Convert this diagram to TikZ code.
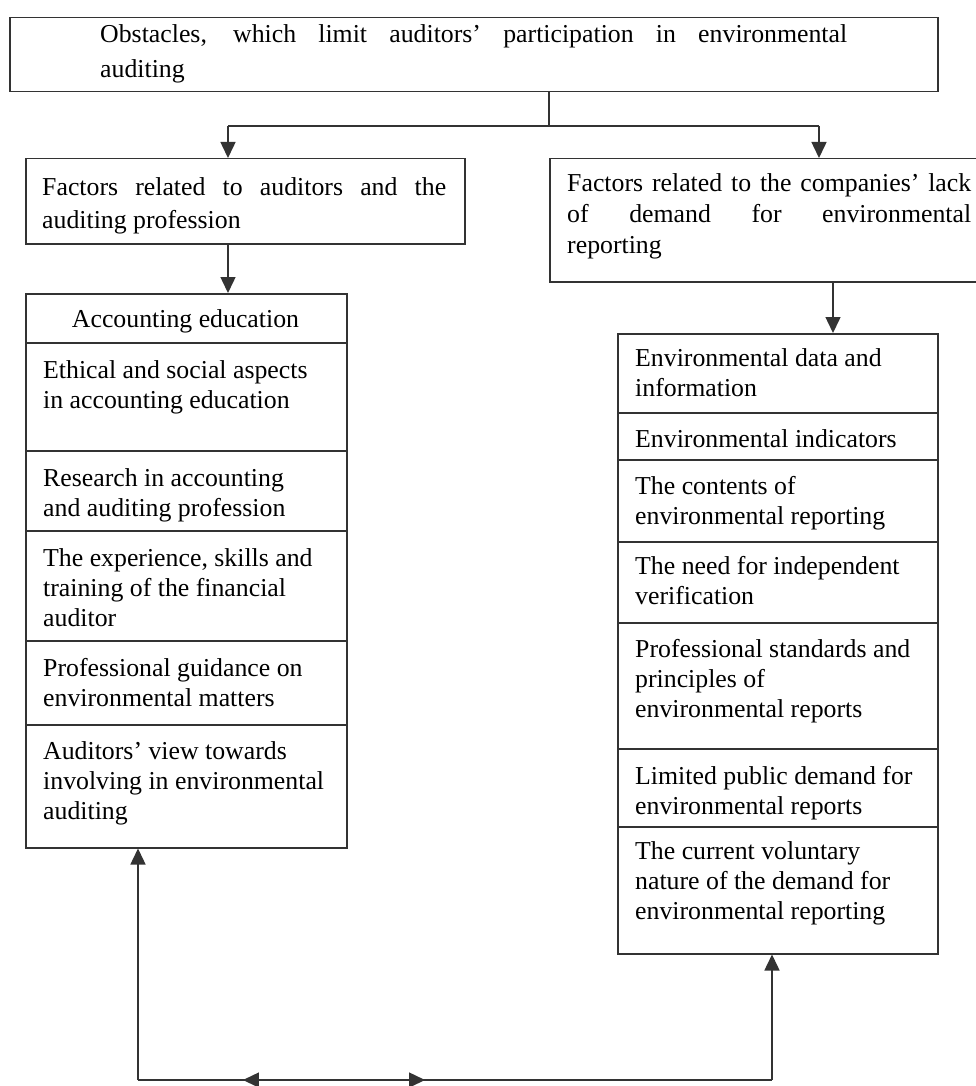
\documentclass[tikz,border=0pt]{standalone}
\usepackage{fontspec}
\setmainfont{Liberation Serif}
\usetikzlibrary{arrows.meta,decorations.markings}
\begin{document}
\begin{tikzpicture}[x=1pt,y=-1pt,
  box/.style={draw=black!80, line width=1.5pt, rectangle, inner sep=0pt, anchor=north west},
  txt/.style={anchor=base west, inner sep=0pt, text width=310pt, align=flush left, font=\fontsize{25.8}{30}\selectfont},
  jtxt/.style={anchor=base west, inner sep=0pt, align=justify, font=\fontsize{25.8}{33}\selectfont},
  arr/.style={draw=black!80, line width=1.5pt, -{Triangle[width=15pt,length=16pt]}},
  conn/.style={draw=black!80, line width=1.5pt}]
\useasboundingbox (0,0) rectangle (976,1086);
\clip (0,0) rectangle (976,1086);
\fill[white] (0,0) rectangle (976,1086);

% top and factor boxes
\node[box, minimum width=928pt, minimum height=74pt] (top) at (9,17) {};
\node[box, minimum width=439pt, minimum height=85pt] (lf) at (25,158) {};
\node[box, minimum width=460pt, minimum height=123pt] (rf) at (549,158) {};

\node[jtxt, text width=747pt, font=\fontsize{25.8}{35}\selectfont] (ttop) at (100,43)
  {Obstacles, which limit auditors’ participation in environmental\linebreak auditing};
\node[jtxt, text width=404pt] (tlf) at (42,195)
  {Factors related to auditors and the\linebreak auditing profession};
\node[jtxt, text width=404pt, font=\fontsize{25.8}{31}\selectfont] (trf) at (567,192)
  {Factors related to the companies’ lack\linebreak of demand for environmental\linebreak reporting};

% left column
\node[box, minimum width=321pt, minimum height=49pt]  (l1) at (25,293) {};
\node[box, minimum width=321pt, minimum height=108pt] (l2) at (25,342) {};
\node[box, minimum width=321pt, minimum height=80pt]  (l3) at (25,450) {};
\node[box, minimum width=321pt, minimum height=110pt] (l4) at (25,530) {};
\node[box, minimum width=321pt, minimum height=84pt]  (l5) at (25,640) {};
\node[box, minimum width=321pt, minimum height=123pt] (l6) at (25,724) {};

\node[txt, anchor=base, text width=, align=center] (tl1) at (185.5,327) {Accounting education};
\node[txt] (tl2) at (43,378) {Ethical and social aspects\\in accounting education};
\node[txt] (tl3) at (43,486) {Research in accounting\\and auditing profession};
\node[txt] (tl4) at (43,566) {The experience, skills and\\training of the financial\\auditor};
\node[txt] (tl5) at (43,676) {Professional guidance on\\environmental matters};
\node[txt] (tl6) at (43,759) {Auditors’ view towards\\involving in environmental\\auditing};

% right column
\node[box, minimum width=320pt, minimum height=79pt]  (r1) at (617,333) {};
\node[box, minimum width=320pt, minimum height=47pt]  (r2) at (617,412) {};
\node[box, minimum width=320pt, minimum height=82pt]  (r3) at (617,459) {};
\node[box, minimum width=320pt, minimum height=81pt]  (r4) at (617,541) {};
\node[box, minimum width=320pt, minimum height=126pt] (r5) at (617,622) {};
\node[box, minimum width=320pt, minimum height=78pt]  (r6) at (617,748) {};
\node[box, minimum width=320pt, minimum height=127pt] (r7) at (617,826) {};

\node[txt] (tr1) at (635,366) {Environmental data and\\information};
\node[txt] (tr2) at (635,447) {Environmental indicators};
\node[txt] (tr3) at (635,494) {The contents of\\environmental reporting};
\node[txt] (tr4) at (635,574) {The need for independent\\verification};
\node[txt] (tr5) at (635,657) {Professional standards and\\principles of\\environmental reports};
\node[txt] (tr6) at (635,784) {Limited public demand for\\environmental reports};
\node[txt] (tr7) at (635,859) {The current voluntary\\nature of the demand for\\environmental reporting};

% connectors
\coordinate (j) at (549,126);
\coordinate (jl) at (228,126);
\coordinate (jr) at (819,126);
\coordinate (rx) at (833,300);
\coordinate (bl) at (138,1080);
\coordinate (br) at (772,1080);

\draw[conn] (top.south -| j) -- (j);
\draw[conn] (jl) -- (jr);
\draw[arr] (jl) -- (jl |- lf.north);
\draw[arr] (jr) -- (jr |- rf.north);
\draw[arr] (lf.south -| jl) -- (l1.north -| jl);
\draw[arr] (rf.south -| rx) -- (r1.north -| rx);
\draw[arr] (bl) -- (bl |- l6.south);
\draw[arr] (br) -- (br |- r7.south);
\draw[conn, postaction={decorate}, decoration={markings,
    mark=at position 0.1656 with {\arrowreversed{Triangle[width=15pt,length=16pt]}},
    mark=at position 0.4527 with {\arrow{Triangle[width=15pt,length=16pt]}}}]
  (bl) -- (br);
\end{tikzpicture}
\end{document}
